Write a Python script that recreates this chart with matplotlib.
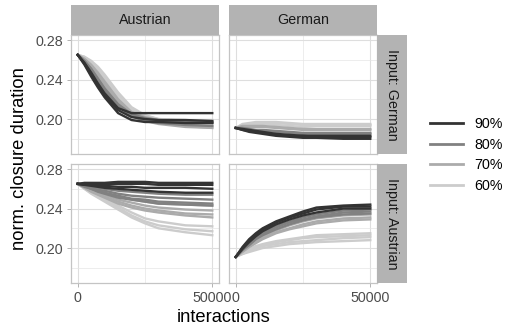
import matplotlib
matplotlib.use("Agg")
import matplotlib.pyplot as plt
from matplotlib.lines import Line2D

plt.rcParams['font.family'] = ['Liberation Sans', 'DejaVu Sans']

# interactions at which the runs are sampled
steps = [0, 2500, 5000, 7500, 10000, 15000, 20000, 25000, 30000, 40000, 50000]
levels = ["90%", "80%", "70%", "60%"]
col_names = ["Austrian", "German"]
row_names = ["Input: German", "Input: Austrian"]

# column Austrian, input German
aus_ing_90 = [
    [0.265, 0.255, 0.243, 0.232, 0.222, 0.206, 0.199, 0.197, 0.197, 0.196, 0.196],
    [0.265, 0.257, 0.247, 0.236, 0.226, 0.211, 0.206, 0.206, 0.206, 0.206, 0.206],
    [0.265, 0.256, 0.245, 0.234, 0.224, 0.209, 0.202, 0.200, 0.199, 0.199, 0.198],
]
aus_ing_80 = [
    [0.265, 0.258, 0.249, 0.239, 0.229, 0.213, 0.204, 0.200, 0.198, 0.197, 0.196],
    [0.265, 0.259, 0.251, 0.241, 0.231, 0.215, 0.205, 0.201, 0.199, 0.198, 0.197],
    [0.265, 0.258, 0.250, 0.240, 0.230, 0.213, 0.203, 0.198, 0.196, 0.194, 0.193],
]
aus_ing_70 = [
    [0.265, 0.260, 0.253, 0.244, 0.235, 0.218, 0.206, 0.200, 0.197, 0.194, 0.193],
    [0.265, 0.261, 0.255, 0.247, 0.238, 0.220, 0.207, 0.202, 0.199, 0.197, 0.196],
    [0.265, 0.260, 0.252, 0.243, 0.234, 0.216, 0.204, 0.198, 0.195, 0.192, 0.191],
]
aus_ing_60 = [
    [0.265, 0.263, 0.258, 0.251, 0.243, 0.225, 0.210, 0.203, 0.200, 0.199, 0.199],
    [0.265, 0.263, 0.259, 0.253, 0.245, 0.227, 0.212, 0.204, 0.200, 0.198, 0.197],
    [0.265, 0.262, 0.257, 0.250, 0.241, 0.222, 0.208, 0.200, 0.196, 0.193, 0.191],
]

# column German, input German
ger_ing_90 = [
    [0.191, 0.189, 0.187, 0.186, 0.185, 0.183, 0.182, 0.181, 0.181, 0.180, 0.180],
    [0.191, 0.189, 0.188, 0.187, 0.186, 0.184, 0.183, 0.183, 0.182, 0.182, 0.182],
    [0.191, 0.190, 0.189, 0.188, 0.187, 0.185, 0.184, 0.183, 0.183, 0.183, 0.183],
]
ger_ing_80 = [
    [0.191, 0.190, 0.189, 0.188, 0.188, 0.187, 0.186, 0.185, 0.185, 0.185, 0.185],
    [0.191, 0.191, 0.190, 0.189, 0.189, 0.188, 0.187, 0.186, 0.186, 0.186, 0.186],
]
ger_ing_70 = [
    [0.191, 0.192, 0.192, 0.192, 0.192, 0.191, 0.190, 0.189, 0.189, 0.189, 0.189],
    [0.191, 0.193, 0.193, 0.193, 0.193, 0.192, 0.191, 0.190, 0.190, 0.190, 0.190],
]
ger_ing_60 = [
    [0.191, 0.194, 0.195, 0.196, 0.196, 0.196, 0.195, 0.194, 0.194, 0.194, 0.194],
    [0.191, 0.195, 0.196, 0.197, 0.197, 0.197, 0.196, 0.195, 0.195, 0.195, 0.195],
    [0.191, 0.193, 0.194, 0.195, 0.195, 0.194, 0.193, 0.192, 0.193, 0.193, 0.193],
]

# column Austrian, input Austrian
aus_ina_90 = [
    [0.265, 0.266, 0.266, 0.266, 0.266, 0.267, 0.267, 0.267, 0.266, 0.266, 0.266],
    [0.265, 0.265, 0.265, 0.265, 0.265, 0.265, 0.265, 0.265, 0.264, 0.264, 0.264],
    [0.265, 0.264, 0.264, 0.263, 0.263, 0.262, 0.262, 0.261, 0.261, 0.261, 0.260],
    [0.265, 0.264, 0.263, 0.262, 0.261, 0.260, 0.259, 0.258, 0.257, 0.256, 0.256],
]
aus_ina_80 = [
    [0.265, 0.264, 0.262, 0.261, 0.260, 0.258, 0.257, 0.256, 0.255, 0.254, 0.254],
    [0.265, 0.263, 0.261, 0.259, 0.258, 0.255, 0.253, 0.252, 0.251, 0.250, 0.249],
    [0.265, 0.263, 0.260, 0.258, 0.256, 0.253, 0.250, 0.249, 0.247, 0.246, 0.245],
    [0.265, 0.262, 0.260, 0.257, 0.255, 0.251, 0.249, 0.247, 0.245, 0.244, 0.243],
]
aus_ina_70 = [
    [0.265, 0.263, 0.260, 0.258, 0.256, 0.252, 0.249, 0.247, 0.245, 0.244, 0.243],
    [0.265, 0.262, 0.259, 0.256, 0.254, 0.249, 0.246, 0.243, 0.241, 0.239, 0.238],
    [0.265, 0.262, 0.258, 0.255, 0.252, 0.247, 0.243, 0.240, 0.238, 0.235, 0.234],
    [0.265, 0.261, 0.257, 0.254, 0.251, 0.245, 0.241, 0.238, 0.236, 0.233, 0.231],
]
aus_ina_60 = [
    [0.265, 0.261, 0.257, 0.253, 0.250, 0.243, 0.236, 0.230, 0.227, 0.223, 0.222],
    [0.265, 0.260, 0.256, 0.252, 0.249, 0.241, 0.233, 0.227, 0.223, 0.219, 0.217],
    [0.265, 0.260, 0.255, 0.251, 0.247, 0.239, 0.231, 0.225, 0.220, 0.216, 0.213],
]

# column German, input Austrian
ger_ina_90 = [
    [0.191, 0.201, 0.209, 0.215, 0.220, 0.227, 0.232, 0.237, 0.241, 0.243, 0.244],
    [0.191, 0.200, 0.208, 0.214, 0.219, 0.226, 0.231, 0.235, 0.239, 0.242, 0.242],
    [0.191, 0.199, 0.206, 0.212, 0.217, 0.224, 0.229, 0.233, 0.236, 0.240, 0.240],
]
ger_ina_80 = [
    [0.191, 0.199, 0.205, 0.211, 0.215, 0.222, 0.227, 0.231, 0.234, 0.238, 0.239],
    [0.191, 0.198, 0.204, 0.210, 0.214, 0.221, 0.226, 0.229, 0.232, 0.236, 0.237],
    [0.191, 0.198, 0.203, 0.209, 0.213, 0.219, 0.224, 0.228, 0.231, 0.234, 0.235],
]
ger_ina_70 = [
    [0.191, 0.197, 0.203, 0.208, 0.212, 0.218, 0.223, 0.227, 0.230, 0.233, 0.234],
    [0.191, 0.197, 0.202, 0.206, 0.210, 0.216, 0.220, 0.224, 0.227, 0.230, 0.231],
    [0.191, 0.196, 0.201, 0.205, 0.209, 0.215, 0.219, 0.222, 0.225, 0.228, 0.229],
]
ger_ina_60 = [
    [0.191, 0.195, 0.198, 0.201, 0.203, 0.206, 0.208, 0.210, 0.211, 0.212, 0.213],
    [0.191, 0.194, 0.197, 0.200, 0.202, 0.204, 0.206, 0.207, 0.208, 0.210, 0.211],
    [0.191, 0.194, 0.196, 0.198, 0.200, 0.202, 0.204, 0.205, 0.206, 0.207, 0.208],
    [0.191, 0.195, 0.199, 0.202, 0.204, 0.207, 0.209, 0.211, 0.213, 0.214, 0.215],
]

panels = [
    [dict(zip(levels, [aus_ing_90, aus_ing_80, aus_ing_70, aus_ing_60])),
     dict(zip(levels, [ger_ing_90, ger_ing_80, ger_ing_70, ger_ing_60]))],
    [dict(zip(levels, [aus_ina_90, aus_ina_80, aus_ina_70, aus_ina_60])),
     dict(zip(levels, [ger_ina_90, ger_ina_80, ger_ina_70, ger_ina_60]))],
]

colors = {"90%": "#333333", "80%": "#818181", "70%": "#ababab", "60%": "#cccccc"}

W, H = 511, 328
fig = plt.figure(figsize=(W / 100, H / 100), dpi=100)


def box(x0, y0, x1, y1):
    # pixel box (top-left origin) -> figure fraction
    return [x0 / W, 1 - y1 / H, (x1 - x0) / W, (y1 - y0) / H]


col_x = [(71, 219), (229, 377)]
row_y = [(35, 154), (164, 283)]
border = "#b3b3b3"

for r in range(2):
    for c in range(2):
        ax = fig.add_axes(box(col_x[c][0], row_y[r][0], col_x[c][1], row_y[r][1]))
        ax.set_xlim(-2500, 52500)
        ax.set_ylim(0.1646, 0.2851)
        ax.set_xticks([0, 50000])
        ax.set_xticklabels(["0", "50000"])
        ax.set_xticks([25000], minor=True)
        ax.set_yticks([0.20, 0.24, 0.28])
        ax.set_yticklabels(["0.20", "0.24", "0.28"])
        ax.set_yticks([0.18, 0.22, 0.26], minor=True)
        ax.grid(which="major", color="#dedede", lw=0.8)
        ax.grid(which="minor", color="#e6e6e6", lw=0.5)
        ax.set_axisbelow(True)
        for s in ax.spines.values():
            s.set_color("#c4c4c4")
            s.set_linewidth(0.9)
        ax.tick_params(which="major", length=3, width=0.7, color=border,
                       labelsize=10.3, labelcolor="#4d4d4d", pad=2.5)
        ax.tick_params(which="minor", length=0)
        if c > 0:
            ax.tick_params(left=False, labelleft=False)
        if r == 0:
            ax.tick_params(bottom=False, labelbottom=False)
        for lev in reversed(levels):
            for run in panels[r][c][lev]:
                ax.plot(steps, run, color=colors[lev], lw=1.7, solid_joinstyle="round")

# column strips
for c in range(2):
    sax = fig.add_axes(box(col_x[c][0], 5, col_x[c][1], 35))
    sax.set_facecolor(border)
    sax.set_xticks([])
    sax.set_yticks([])
    for s in sax.spines.values():
        s.set_visible(False)
    sax.text(0.5, 0.5, col_names[c], ha="center", va="center",
             fontsize=10.3, color="#1a1a1a", transform=sax.transAxes)

# row strips
for r in range(2):
    sax = fig.add_axes(box(377, row_y[r][0], 407, row_y[r][1]))
    sax.set_facecolor(border)
    sax.set_xticks([])
    sax.set_yticks([])
    for s in sax.spines.values():
        s.set_visible(False)
    sax.text(0.5, 0.5, row_names[r], ha="center", va="center", rotation=-90,
             fontsize=10.3, color="#1a1a1a", transform=sax.transAxes)

fig.text(224 / W, 1 - 318 / H, "interactions", ha="center", va="center", fontsize=13.2)
fig.text(20 / W, 1 - 159 / H, "norm. closure duration", ha="center", va="center",
         rotation=90, fontsize=13.2)

handles = [Line2D([], [], color=colors[l], lw=2) for l in levels]
fig.legend(handles, levels, loc="center left", bbox_to_anchor=(424 / W, 1 - 155 / H),
           frameon=False, fontsize=10.3, handlelength=2.3, handletextpad=0.8,
           labelspacing=0.45, borderaxespad=0)

fig.savefig("out.png", dpi=100)
